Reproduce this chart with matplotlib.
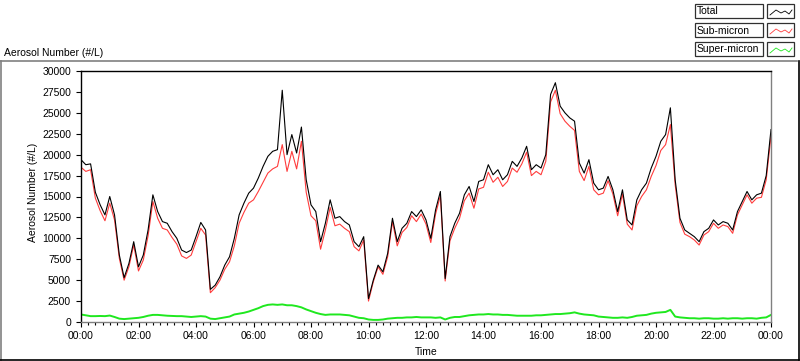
import numpy as np
import matplotlib.pyplot as plt
from matplotlib.lines import Line2D
from matplotlib.patches import Rectangle
from matplotlib.ticker import MultipleLocator

plt.rcParams['font.family'] = 'Liberation Sans'
plt.rcParams['font.size'] = 7.5

# readings every 10 minutes, 00:00 .. 24:00 (#/L)
total = [19400, 18800, 18900, 15500, 14000, 12800, 15000, 12800, 8000, 5300,
         7000, 9600, 6600, 8000, 11000, 15200, 13200, 12000, 11800, 10800,
         10000, 8600, 8300, 8600, 10200, 11900, 11000, 3900, 4400, 5400,
         6800, 7800, 10000, 12800, 14200, 15400, 16000, 17200, 18600, 19800,
         20400, 20600, 27700, 20000, 22400, 20200, 23300, 17000, 14000, 13200,
         9600, 11800, 14600, 12400, 12600, 12000, 11600, 9600, 9000, 10200,
         2800, 5000, 6800, 6000, 8200, 12400, 9600, 11200, 11800, 13200,
         12600, 13400, 12200, 10000, 13400, 15600, 5200, 10200, 11800, 13000,
         15200, 16200, 14400, 16800, 17000, 18800, 17600, 18200, 17000, 17600,
         19200, 18600, 19600, 21000, 18200, 18800, 18400, 20000, 27200, 28600,
         25800, 25000, 24400, 24000, 19000, 17800, 19400, 16600, 15800, 16000,
         17400, 15800, 13200, 15800, 12200, 11600, 14600, 15800, 16600, 18400,
         19800, 21600, 22400, 25600, 17000, 12400, 11000, 10600, 10200, 9600,
         10800, 11200, 12200, 11600, 12000, 11800, 11000, 13200, 14400, 15600,
         14600, 15200, 15400, 17500, 23000]

sub_micron = [18500, 18000, 18200, 14800, 13300, 12100, 14200, 12200, 7600, 5000,
              6600, 9200, 6100, 7400, 10300, 14400, 12400, 11200, 11000, 10100,
              9300, 7900, 7600, 8000, 9600, 11200, 10400, 3500, 4100, 5000,
              6300, 7200, 9100, 11800, 13100, 14200, 14600, 15600, 16700, 17800,
              18300, 18600, 21200, 18000, 20400, 18300, 21600, 15500, 12700, 12100,
              8700, 11000, 13700, 11500, 11700, 11200, 10800, 9000, 8500, 9800,
              2500, 4800, 6600, 5700, 7800, 12000, 9100, 10700, 11300, 12700,
              12000, 12900, 11700, 9500, 12900, 15100, 4900, 9700, 11200, 12400,
              14500, 15400, 13600, 15900, 16100, 17900, 16700, 17300, 16200, 16800,
              18400, 17900, 18900, 20300, 17500, 18000, 17600, 19200, 26300, 27700,
              24900, 24000, 23400, 22900, 18000, 16900, 18600, 15800, 15200, 15400,
              16900, 15300, 12700, 15300, 11700, 11000, 13900, 15000, 15800, 17400,
              18700, 20500, 21200, 23600, 16400, 11900, 10500, 10200, 9800, 9200,
              10400, 10800, 11800, 11200, 11600, 11400, 10600, 12800, 14000, 15200,
              14200, 14800, 14900, 17000, 22200]

super_micron = [900, 800, 700, 700, 720, 700, 770, 600, 400, 350,
                400, 450, 500, 600, 750, 850, 850, 800, 750, 720,
                700, 700, 650, 600, 650, 700, 650, 400, 350, 450,
                550, 650, 900, 1000, 1100, 1250, 1450, 1650, 1900, 2050,
                2100, 2050, 2100, 2000, 2000, 1900, 1750, 1500, 1300, 1100,
                950, 850, 900, 900, 900, 850, 800, 650, 500, 450,
                300, 250, 250, 300, 400, 450, 500, 500, 550, 550,
                600, 550, 550, 550, 500, 550, 300, 500, 600, 600,
                700, 800, 850, 900, 900, 950, 900, 900, 850, 850,
                800, 750, 750, 750, 750, 800, 800, 850, 900, 950,
                950, 1000, 1050, 1150, 1000, 900, 850, 800, 650, 600,
                550, 500, 500, 550, 500, 600, 750, 800, 850, 1000,
                1100, 1150, 1200, 1450, 650, 550, 500, 450, 450, 400,
                450, 450, 400, 400, 450, 400, 450, 450, 400, 450,
                450, 400, 500, 550, 850]

hour_ticks = list(range(0, 25, 2))
hour_labels = ['00:00', '02:00', '04:00', '06:00', '08:00', '10:00', '12:00',
               '14:00', '16:00', '18:00', '20:00', '22:00', '00:00']
series_names = ['Total', 'Sub-micron', 'Super-micron']
series_colors = ['black', '#ff3c3c', '#1fe81f']

hours = np.arange(len(total)) / 6.0

W, H = 800, 361
fig = plt.figure(figsize=(W / 100, H / 100), dpi=100)


def fx(px):
    return px / W


def fy(py):
    return 1 - py / H


ax = fig.add_axes([fx(81), fy(322), fx(771) - fx(81), fy(71) - fy(322)])

ax.plot(hours, super_micron, color=series_colors[2], lw=1.4)
ax.plot(hours, sub_micron, color=series_colors[1], lw=0.8)
ax.plot(hours, total, color=series_colors[0], lw=0.8)

ax.set_xlim(0, 24)
ax.set_ylim(0, 30000)
ax.set_yticks(np.arange(0, 30001, 2500))
ax.set_xticks(hour_ticks)
ax.set_xticklabels(hour_labels)
ax.xaxis.set_minor_locator(MultipleLocator(0.25))
ax.tick_params(axis='y', direction='out', length=3.6, width=0.8, pad=3.6, labelsize=7.5)
ax.tick_params(axis='x', which='major', direction='out', length=3.6, width=0.8, pad=3.0, labelsize=7.5)
ax.tick_params(axis='x', which='minor', direction='out', length=2.0, width=0.8)
ax.spines['left'].set_color('black')
ax.spines['top'].set_color('black')
ax.spines['right'].set_color('#808080')
ax.spines['bottom'].set_color('#808080')
ax.tick_params(axis='x', which='both', color='black')
for s in ax.spines.values():
    s.set_linewidth(1.0)

# outer frame
fig.add_artist(Line2D([fx(0), fx(797)], [fy(61), fy(61)], color='#808080', lw=1.2))
fig.add_artist(Line2D([fx(0.5), fx(0.5)], [fy(61), fy(360)], color='#808080', lw=1.2))
fig.add_artist(Line2D([fx(0), fx(798.5)], [fy(359.5), fy(359.5)], color='black', lw=1.2))
fig.add_artist(Line2D([fx(798.5), fx(798.5)], [fy(61), fy(360)], color='black', lw=1.2))

fig.text(fx(4), fy(53), 'Aerosol Number (#/L)', ha='left', va='center', fontsize=7.5)
fig.text(fx(33), fy(192), 'Aerosol Number (#/L)', ha='center', va='center',
         rotation=90, fontsize=7.5)
fig.text(fx(426), fy(352), 'Time', ha='center', va='center', fontsize=7.5)

# legend boxes
row_tops = [4, 23, 42]
for name, color, top in zip(series_names, series_colors, row_tops):
    fig.add_artist(Rectangle((fx(695), fy(top + 14)), fx(763) - fx(695), fy(top) - fy(top + 14),
                             fill=False, edgecolor='#303030', lw=0.9))
    fig.text(fx(697), fy(top + 7.5), name, ha='left', va='center', fontsize=7.5)
    fig.add_artist(Rectangle((fx(767), fy(top + 14)), fx(794) - fx(767), fy(top) - fy(top + 14),
                             fill=False, edgecolor='#303030', lw=0.9))
    zx = [770, 776, 781, 785, 789, 792]
    zy = [11, 6, 9, 7, 10, 6]
    fig.add_artist(Line2D([fx(x) for x in zx], [fy(top + y) for y in zy], color=color, lw=0.6))

fig.savefig('out.png', dpi=100)
